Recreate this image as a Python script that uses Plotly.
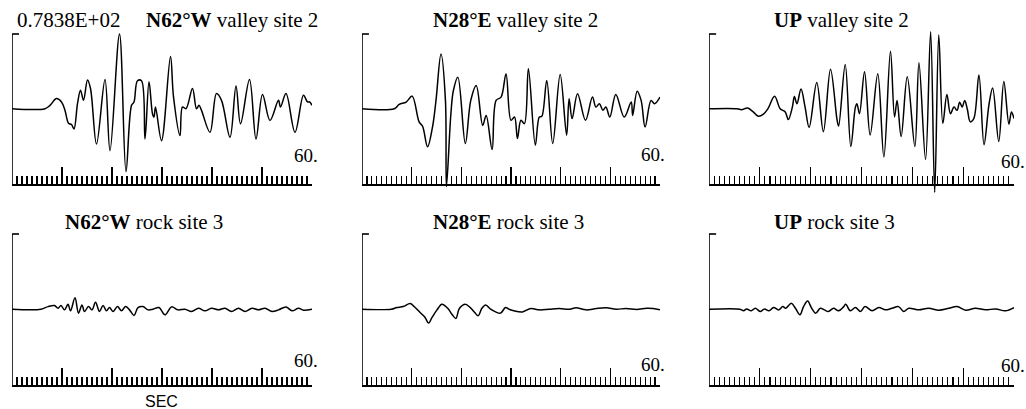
import plotly.graph_objects as go

# ---------------- data (seconds, amplitude) ----------------
t_n62w_valley = [0, 6.6, 7.6, 8.9, 9.9, 10.6, 11.3, 11.9, 12.4, 13.1, 13.7, 14.3, 15.1, 15.7, 16.9, 18.6, 19.6, 21.5,
                 22.8, 23.9, 24.4, 25.1, 25.9, 26.6, 27.4, 28.1, 28.4, 28.7, 29.9, 31.7, 32.3, 33.6, 34.1, 34.8, 36.1,
                 36.9, 37.4, 37.9, 39.6, 40.9, 41.9, 43.6, 44.8, 45.7, 47.5, 48.8, 50.1, 51.6, 53.3, 53.7, 54.8, 56.6,
                 58.3, 59.1, 59.5, 60.0]
a_n62w_valley = [0, 0, 3.5, 10.6, 7.1, -1.8, -15.2, -16.6, -21.2, 5.3, 19.4, 8.8, 30.0, 21.2, -37.1, 30.7, -44.1, 78.4,
                 -66.0, 3.5, 7.1, 29.3, 29.3, -31.8, 28.2, -5.3, -8.8, 1.8, -33.5, 54.7, 12.4, -28.2, 1.8, 0, 21.2,
                 0, 3.5, -1.8, -24.7, 15.9, 8.8, -30.0, 23.7, -15.9, 30.7, -31.8, 14.8, -12.4, 8.8, 1.8, 15.9, -24.7,
                 14.1, 7.1, 7.1, 3.5]

t_n28e_valley = [0, 6.5, 7.5, 8.9, 10.1, 11.5, 12.2, 13.2, 14.2, 14.9, 15.9, 16.8, 17.0, 17.9, 18.4, 19.3, 20.8, 21.9,
                 23.0, 24.3, 25.0, 26.2, 27.0, 28.0, 29.0, 30.0, 30.7, 31.3, 32.0, 32.7, 33.5, 34.9, 35.7, 36.2, 37.2,
                 38.4, 39.9, 41.2, 41.7, 42.3, 43.4, 45.0, 46.4, 47.1, 47.8, 48.5, 49.1, 49.9, 51.1, 52.8, 54.2, 54.5,
                 55.4, 56.2, 57.0, 58.2, 58.9, 60.0]
a_n28e_valley = [0, 0, 4.5, 7.0, 13.2, -13.9, -18.4, -40.0, -19.1, 8.7, 57.4, 8.7, -81.8, -5.2, 19.1, 33.1, -36.5, 8.7,
                 24.4, -17.4, -7.0, -42.8, 8.7, 12.2, 36.5, -12.2, -8.7, -31.3, -12.2, -15.7, 41.8, -38.3, -8.7, -8.0,
                 29.6, -36.5, 35.8, -27.8, 10.4, -10.4, 15.7, -12.2, 12.2, 1.7, 5.2, -1.7, 1.7, -8.7, 15.0, -8.7, 7.0,
                 -7.0, 18.4, 8.7, -19.1, 8.7, 5.2, 12.2]

t_up_valley = [0, 5.5, 6.4, 7.6, 8.7, 9.7, 10.7, 11.6, 12.9, 14.0, 15.0, 15.6, 16.4, 16.8, 17.3, 18.1, 18.9, 19.7,
               21.2, 22.5, 23.9, 25.2, 25.5, 26.8, 27.9, 28.8, 29.1, 29.6, 30.6, 31.7, 33.2, 34.4, 35.7, 36.5, 37.0,
               37.8, 39.0, 40.5, 41.3, 42.6, 43.6, 44.4, 45.2, 46.0, 46.8, 47.5, 48.2, 48.8, 49.3, 49.8, 50.3, 50.8,
               51.4, 52.1, 53.1, 54.1, 55.1, 55.8, 57.0, 58.0, 59.0, 59.5, 60.0]
a_up_valley = [0, 0, -1.0, 0.7, -3.4, -7.9, -5.8, 0, 13.1, 0, -3.4, -11.4, 1.7, 12.7, 5.2, 20.6, 1.7, -19.6,
               27.5, -24.1, 41.3, -12.0, -18.2, 46.4, -39.6, 1.7, 5.2, -5.2, 38.9, -27.5, 36.8, -50.6, 60.2, -8.6, 8.6,
               -29.2, 33.4, -39.6, 48.2, -53.3, 80.8, -87.7, 77.4, -15.5, 14.8, -5.2, 1.7, -1.7, 6.9, 1.7, 8.6, 0,
               -13.8, -10.3, 35.4, -37.8, 5.2, 21.7, -34.4, 28.6, -16.2, -3.4, -10.3]

t_n62w_rock = [0, 5.8, 7.2, 8.5, 9.2, 9.8, 10.5, 11.2, 11.7, 12.6, 13.3, 14.0, 14.5, 15.3, 16.0, 16.7, 17.5, 18.2,
               18.9, 19.5, 20.2, 21.1, 21.9, 22.7, 23.5, 24.4, 25.2, 26.2, 27.2, 28.2, 29.4, 30.6, 31.9, 33.2, 34.6,
               35.9, 37.3, 38.6, 39.9, 41.3, 42.6, 43.9, 45.3, 46.6, 48.0, 49.3, 50.6, 52.0, 53.3, 54.8, 56.0, 57.3,
               58.3, 60.0]
a_n62w_rock = [0, 0, 2.7, 3.8, 1.0, 3.8, -0.7, 5.1, -1.7, 11.9, -4.1, 4.4, -2.4, 2.7, -0.7, 7.2, -2.4, 3.8,
               -1.7, 1.7, -2.4, 2.7, -1.7, 2.7, -0.7, -6.5, 1.7, 2.7, -0.7, 0, 1.7, -5.8, 2.4, -0.7, 0,
               -2.4, 1.0, -1.7, 1.0, -0.7, 1.0, -2.4, 1.0, -2.4, 1.0, -0.7, 1.0, -2.4, -0.7, 2.4, -1.7, 1.0,
               -1.0, 0]

t_n28e_rock = [0, 5.9, 7.0, 8.3, 9.7, 10.5, 11.7, 12.7, 13.4, 14.1, 15.1, 16.1, 17.3, 18.1, 18.9, 19.6, 20.8, 21.8,
               22.7, 23.4, 24.1, 24.9, 25.9, 26.9, 27.9, 28.9, 29.6, 30.6, 32.3, 34.0, 35.7, 37.7, 39.7, 41.8, 43.1,
               45.1, 47.2, 49.2, 51.2, 53.2, 55.3, 57.3, 58.6, 60.0]
a_n28e_rock = [0, 0, 1.7, 2.8, 5.9, 2.8, -3.5, -8.6, -14.5, -8.6, -0.7, 5.2, 0.7, -5.2, -9.7, 0.7, 5.2, 1.7,
               -3.5, -6.9, 0.7, 4.5, 0, -2.8, -4.1, 1.7, 0, -1.7, -2.8, 0.7, -0.7, 0, 0.7, 0, 1.4,
               -0.7, 0.7, 1.4, 0, 0.7, -0.3, 1.0, 0.7, -0.7]

t_up_rock = [0, 6.1, 6.8, 7.4, 8.3, 9.1, 10.1, 10.9, 11.8, 12.7, 13.7, 14.5, 15.1, 16.2, 17.0, 17.9, 18.6, 19.4,
             20.2, 21.0, 21.9, 22.7, 23.5, 24.5, 25.5, 26.5, 26.9, 27.8, 28.8, 29.8, 30.7, 32.1, 33.4, 34.7, 36.0,
             37.3, 38.3, 39.3, 41.3, 43.2, 45.2, 47.2, 48.8, 50.5, 52.4, 54.4, 56.4, 58.3, 60.0]
a_up_rock = [0, 0, -1.7, 0.3, -1.7, 1.0, -2.4, 0.3, -1.7, 1.7, -0.7, 2.7, 1.0, 6.1, 1.0, -5.8, 2.7, 8.5,
             1.0, -4.1, 1.0, -0.7, -2.4, 1.0, -1.7, 2.7, 5.1, -1.7, 1.7, -2.4, 2.7, -1.7, 1.7, -0.7, 1.0,
             2.7, -2.4, 1.0, -0.7, 1.0, -1.0, 1.0, 2.7, -1.0, 1.0, -0.7, 0.3, -1.7, 1.7]

bold_labels = ["N62°W", "N28°E", "UP", "N62°W", "N28°E", "UP"]
rest_labels = ["valley site 2", "valley site 2", "valley site 2", "rock site 3", "rock site 3", "rock site 3"]
amp_label = "0.7838E+02"
end_label = "60."
unit_label = "SEC"
x_max = 60
major_step = 10
minor_step = 1
amp_top = 78.38
amp_bottom = -79.0

series = [(t_n62w_valley, a_n62w_valley), (t_n28e_valley, a_n28e_valley), (t_up_valley, a_up_valley),
          (t_n62w_rock, a_n62w_rock), (t_n28e_rock, a_n28e_rock), (t_up_rock, a_up_rock)]

# ---------------- layout (pixels) ----------------
W, H = 1026, 409
COLS = [(12, 312), (362, 660), (709, 1014)]
ROWS = [(34, 184), (234, 385)]
EXT_UP, EXT_DN = 12, 16
TITLE_X = [144, 431, 772, 63, 431, 772]
TITLE_Y = [20, 20, 20, 222, 222, 222]
END_Y = [155, 154, 161, 360, 364, 365]
END_X = [320, 667, 1027, 320, 667, 1027]
SERIF = "Liberation Serif, Times New Roman, serif"

fig = go.Figure()
shapes = []
annotations = []

for i, (tt, aa) in enumerate(series):
    r, c = divmod(i, 3)
    x0, x1 = COLS[c]
    top, bot = ROWS[r]
    ppu = (bot - top) / (amp_top - amp_bottom)
    yr = [amp_bottom - EXT_DN / ppu, amp_top + EXT_UP / ppu]
    ydom = [1 - (bot + EXT_DN) / H, 1 - (top - EXT_UP) / H]
    k = "" if i == 0 else str(i + 1)
    xa, ya = "xaxis" + k, "yaxis" + k
    fig.add_trace(go.Scatter(x=tt, y=aa, mode="lines", xaxis="x" + k, yaxis="y" + k,
                             line=dict(color="black", width=1.5, shape="spline", smoothing=1.0),
                             showlegend=False, hoverinfo="skip"))
    fig.layout[xa] = dict(domain=[x0 / W, x1 / W], range=[0, x_max], anchor="free", position=1 - bot / H,
                          showline=True, linecolor="black", linewidth=1.6, showgrid=False, zeroline=False,
                          ticks="inside", tickvals=list(range(0, x_max + 1, major_step)), ticklen=17,
                          tickwidth=1.3, tickcolor="black", showticklabels=False,
                          minor=dict(dtick=minor_step, tick0=0, ticks="inside", ticklen=8, tickwidth=1.1,
                                     tickcolor="black", showgrid=False),
                          fixedrange=True)
    fig.layout[ya] = dict(domain=ydom, range=yr, anchor="x" + k, visible=False, fixedrange=True)
    shapes.append(dict(type="line", xref="x" + k, yref="y" + k, x0=0, x1=0, y0=amp_bottom, y1=amp_top,
                       line=dict(color="black", width=1.6)))
    shapes.append(dict(type="line", xref="x" + k, yref="y" + k, x0=0, x1=1.4, y0=amp_top, y1=amp_top,
                       line=dict(color="black", width=1.6)))
    annotations.append(dict(x=TITLE_X[i] / W, y=1 - TITLE_Y[i] / H, xref="paper", yref="paper",
                            xanchor="left", yanchor="middle", showarrow=False,
                            text="<b>" + bold_labels[i] + "</b> " + rest_labels[i],
                            font=dict(family=SERIF, size=21, color="black")))
    annotations.append(dict(x=END_X[i] / W, y=1 - END_Y[i] / H, xref="paper", yref="paper",
                            xanchor="right", yanchor="middle", showarrow=False, text=end_label,
                            font=dict(family=SERIF, size=19, color="black")))

annotations.append(dict(x=15 / W, y=1 - 20 / H, xref="paper", yref="paper", xanchor="left", yanchor="middle",
                        showarrow=False, text=amp_label, font=dict(family=SERIF, size=21, color="black")))
annotations.append(dict(x=161 / W, y=1 - 401 / H, xref="paper", yref="paper", xanchor="center",
                        yanchor="middle", showarrow=False, text=unit_label,
                        font=dict(family="Liberation Sans, Arial, sans-serif", size=16, color="black")))

fig.update_layout(width=W, height=H, margin=dict(l=0, r=0, t=0, b=0), plot_bgcolor="white",
                  paper_bgcolor="white", shapes=shapes, annotations=annotations)

fig.write_html("out.html", config={"displayModeBar": False, "staticPlot": True},
               post_script="document.body.style.margin='0px';document.body.style.overflow='hidden';")
